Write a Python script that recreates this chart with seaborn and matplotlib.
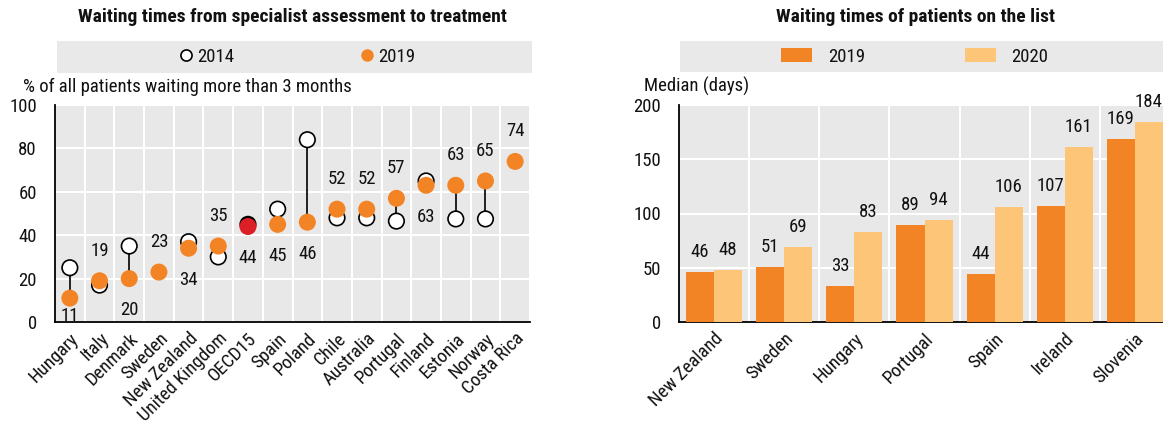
import numpy as np
import pandas as pd
import matplotlib
matplotlib.use("Agg")
import matplotlib.pyplot as plt
from matplotlib.patches import Rectangle, Patch
from matplotlib.lines import Line2D
from matplotlib.ticker import FixedLocator
from matplotlib import font_manager
import seaborn as sns

# ---------------- data ----------------
left_countries = ["Hungary", "Italy", "Denmark", "Sweden", "New Zealand", "United Kingdom",
                  "OECD15", "Spain", "Poland", "Chile", "Australia", "Portugal", "Finland",
                  "Estonia", "Norway", "Costa Rica"]
left_2014 = [25, 17, 35, np.nan, 37, 30, 45, 52, 84, 48, 48, 46.5, 65, 47.5, 47.5, np.nan]
left_2019 = [11, 19, 20, 23, 34, 35, 44, 45, 46, 52, 52, 57, 63, 63, 65, 74]
left_highlight = "OECD15"

right_countries = ["New Zealand", "Sweden", "Hungary", "Portugal", "Spain", "Ireland", "Slovenia"]
right_2019 = [46, 51, 33, 89, 44, 107, 169]
right_2020 = [48, 69, 83, 94, 106, 161, 184]

left_yticks = [0, 20, 40, 60, 80, 100]
right_yticks = [0, 50, 100, 150, 200]

title_left = "Waiting times from specialist assessment to treatment"
title_right = "Waiting times of patients on the list"
ylabel_left = "% of all patients waiting more than 3 months"
ylabel_right = "Median (days)"

# ---------------- style ----------------
ORANGE = "#F38426"
LIGHT = "#FDC578"
RED = "#DC1F26"
BG = "#E8E8E8"

sns.set_theme(style="white")

installed = {f.name for f in font_manager.fontManager.ttflist}
narrow_candidates = ["Liberation Sans Narrow", "Arial Narrow", "Roboto Condensed",
                     "Open Sans Condensed", "DejaVu Sans Condensed"]
narrow = [f for f in narrow_candidates if f in installed]
if narrow:
    plt.rcParams["font.family"] = [narrow[0], "DejaVu Sans"]
    FS = 13.5
    TFS = 14
else:
    plt.rcParams["font.family"] = ["Liberation Sans", "DejaVu Sans"]
    FS = 12
    TFS = 12
plt.rcParams["text.color"] = "#111111"
plt.rcParams["xtick.labelcolor"] = "#111111"
plt.rcParams["ytick.labelcolor"] = "#111111"

W, H = 1163, 424
fig = plt.figure(figsize=(W / 100, H / 100), dpi=100)


def fx(px):
    return px / W


def fy(py):
    return 1 - py / H


axL = fig.add_axes([fx(55), fy(322), (530 - 55) / W, (322 - 105) / H])
axR = fig.add_axes([fx(679), fy(322), (1170 - 679) / W, (322 - 105) / H])

# ---------------- left panel ----------------
n = len(left_countries)
dfL = pd.DataFrame({"country": left_countries, "y2014": left_2014, "y2019": left_2019})
dfL["pos"] = np.arange(n)
dfL["avg"] = dfL["country"] == left_highlight

both = dfL.dropna(subset=["y2014"])
axL.vlines(both["pos"], both["y2014"], both["y2019"], color="black", lw=1.2, zorder=2)

sns.scatterplot(data=both, x="pos", y="y2014", hue="avg",
                palette={False: "white", True: "black"}, edgecolor="black", linewidth=1.2,
                s=125, legend=False, ax=axL, zorder=3)
sns.scatterplot(data=dfL, x="pos", y="y2019", hue="avg",
                palette={False: ORANGE, True: RED}, edgecolor="none", linewidth=0,
                s=150, legend=False, ax=axL, zorder=4)

for _, row in dfL.iterrows():
    above = np.isnan(row["y2014"]) or row["y2019"] >= row["y2014"]
    ty = row["y2019"] + 13.8 if above else max(row["y2019"] - 14.7, 2.6)
    axL.text(row["pos"], ty, f"{row['y2019']:.0f}", ha="center", va="center",
             fontsize=FS, zorder=5)

axL.set_xlim(-0.5, n - 0.5)
axL.set_ylim(0, 100)
axL.set_yticks(left_yticks)
axL.set_xticks(dfL["pos"])
axL.set_xticklabels(left_countries, rotation=45, ha="right", va="top", rotation_mode="anchor")
axL.xaxis.set_minor_locator(FixedLocator(np.arange(n + 1) - 0.5))

# ---------------- right panel ----------------
dfR = pd.DataFrame({
    "country": right_countries * 2,
    "value": right_2019 + right_2020,
    "year": ["2019"] * len(right_countries) + ["2020"] * len(right_countries),
})
sns.barplot(data=dfR, x="country", y="value", hue="year",
            palette={"2019": ORANGE, "2020": LIGHT}, saturation=1, width=0.8,
            linewidth=0, legend=False, ax=axR, zorder=3)
for cont in axR.containers:
    axR.bar_label(cont, fmt="%.0f", padding=8, fontsize=FS, clip_on=False, zorder=5)

m = len(right_countries)
axR.set_xlim(-0.5, m - 0.5)
axR.set_ylim(0, 200)
axR.set_yticks(right_yticks)
axR.set_xticks(range(m))
axR.set_xticklabels(right_countries, rotation=45, ha="right", va="top", rotation_mode="anchor")
axR.xaxis.set_minor_locator(FixedLocator(np.arange(m + 1) - 0.5))

# ---------------- common axes styling ----------------
for ax in (axL, axR):
    ax.set_facecolor(BG)
    ax.set_xlabel("")
    ax.set_ylabel("")
    ax.set_axisbelow(True)
    ax.grid(False)
    ax.grid(True, axis="y", which="major", color="white", lw=1.5)
    ax.grid(True, axis="x", which="minor", color="white", lw=1.5)
    for s in ("top", "right"):
        ax.spines[s].set_visible(False)
    for s in ("left", "bottom"):
        ax.spines[s].set_color("black")
        ax.spines[s].set_linewidth(1.3)
    ax.tick_params(axis="x", which="major", length=0, pad=5.5, labelsize=FS)
    ax.tick_params(axis="x", which="minor", direction="in", length=5, width=1.2, color="black")
    ax.tick_params(axis="y", which="major", direction="in", length=5, width=1.2,
                   pad=13, labelsize=FS, color="black")

# ---------------- titles, legends, axis captions ----------------
fig.text(fx(292), fy(17), title_left, ha="center", va="center", fontsize=TFS, fontweight="bold")
fig.text(fx(915), fy(17), title_right, ha="center", va="center", fontsize=TFS, fontweight="bold")

fig.add_artist(Rectangle((fx(57), fy(73)), (532 - 57) / W, 32 / H, transform=fig.transFigure,
                         facecolor="#E9E9E9", edgecolor="none", zorder=0))
fig.add_artist(Rectangle((fx(680), fy(72)), (1175 - 680) / W, 31 / H, transform=fig.transFigure,
                         facecolor="#E9E9E9", edgecolor="none", zorder=0))

hL = [Line2D([], [], marker="o", ls="", mfc="white", mec="black", mew=1.2, ms=8),
      Line2D([], [], marker="o", ls="", mfc=ORANGE, mec="none", ms=9)]
fig.legend(hL, ["2014", "2019"], loc="center", bbox_to_anchor=(fx(297), fy(57)),
           ncol=2, frameon=False, fontsize=FS, columnspacing=6.7,
           handletextpad=0.2, handlelength=0.8)
hR = [Patch(facecolor=ORANGE, edgecolor="none"), Patch(facecolor=LIGHT, edgecolor="none")]
fig.legend(hR, ["2019", "2020"], loc="center", bbox_to_anchor=(fx(915), fy(56.5)),
           ncol=2, frameon=False, fontsize=FS, columnspacing=5.3,
           handletextpad=0.85, handlelength=1.65, handleheight=0.85)

fig.text(fx(23), fy(87), ylabel_left, ha="left", va="center", fontsize=FS)
fig.text(fx(644), fy(86), ylabel_right, ha="left", va="center", fontsize=FS)

fig.savefig("out.png", dpi=100)
